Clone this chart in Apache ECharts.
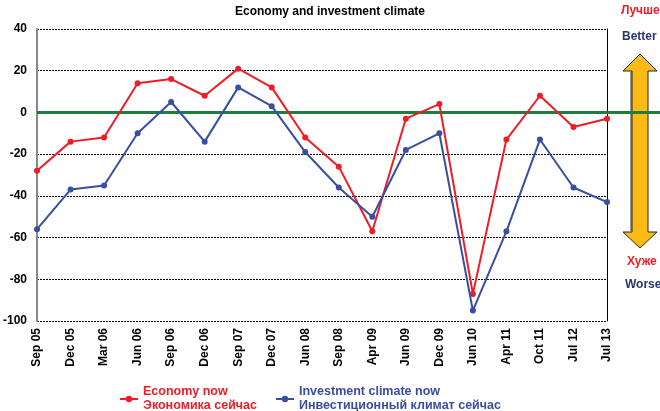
<!DOCTYPE html>
<html>
<head>
<meta charset="utf-8">
<script src="https://cdn.jsdelivr.net/npm/echarts@6/dist/echarts.min.js"></script>
<style>
  html, body { margin: 0; padding: 0; background: #fff; }
  #chart { width: 660px; height: 411px; }
</style>
</head>
<body>
<div id="chart"></div>
<script>
// периоды опроса
const periods = ['Sep 05', 'Dec 05', 'Mar 06', 'Jun 06', 'Sep 06', 'Dec 06', 'Sep 07', 'Dec 07', 'Jun 08',
  'Sep 08', 'Apr 09', 'Jun 09', 'Dec 09', 'Jun 10', 'Apr 11', 'Oct 11', 'Jul 12', 'Jul 13'];
const economyNow = [-28, -14, -12, 14, 16, 8, 21, 12, -12, -26, -57, -3, 4, -87, -13, 8, -7, -3];
const investNow = [-56, -37, -35, -10, 5, -14, 12, 3, -19, -36, -50, -18, -10, -95, -57, -13, -36, -43];
const yTicks = { min: -100, max: 40, step: 20 };

const RED = '#ee1c25';
const BLUE = '#3a4ea0';
const NAVY = '#2b3672';
const GREEN = '#1e7e3e';
const FONT = 'Liberation Sans, Arial, sans-serif';

let chart = echarts.init(document.getElementById('chart'));

function legendItem(name, color) {
    return {
        name: name,
        textStyle: {
            color: color,
            fontFamily: FONT,
            fontWeight: 'bold',
            fontSize: 12.5,
            lineHeight: 14,
            padding: [14, 0, 0, 0] // первая строка вровень со значком
        }
    };
}

let option = {
    animation: false,
    title: {
        text: 'Economy and investment climate',
        left: 'center',
        top: 1,
        textStyle: { fontFamily: FONT, fontSize: 12, fontWeight: 'bold', color: '#000' }
    },
    grid: { left: 36, right: 53, top: 29, bottom: 90 },
    legend: {
        left: 114,
        top: 373,
        itemGap: 18,
        itemWidth: 18,
        itemHeight: 8,
        formatter: function (name) {
            return name === 'Economy now' ? 'Economy now\nЭкономика сейчас'
                : 'Investment climate now\nИнвестиционный климат сейчас';
        },
        data: [
            legendItem('Economy now', RED),
            legendItem('Investment climate now', BLUE)
        ]
    },
    xAxis: {
        type: 'category',
        data: periods,
        boundaryGap: false,
        axisLine: { show: false, onZero: false },
        axisTick: { show: false },
        axisLabel: {
            rotate: 90,
            margin: 7,
            fontFamily: FONT,
            fontSize: 12,
            fontWeight: 'bold',
            color: '#000',
            interval: 0
        },
        splitLine: { show: false }
    },
    yAxis: [{
        type: 'value',
        min: yTicks.min,
        max: yTicks.max,
        interval: yTicks.step,
        axisLine: { show: true, lineStyle: { color: '#888', width: 2 } },
        axisTick: { show: false },
        axisLabel: { fontFamily: FONT, fontSize: 12, fontWeight: 'bold', color: '#000', margin: 10 },
        splitLine: { lineStyle: { color: '#000', type: [2, 1], width: 1 } }
    }, {
        type: 'value',
        position: 'right',
        min: yTicks.min,
        max: yTicks.max,
        interval: yTicks.step,
        axisLine: { show: true, lineStyle: { color: '#000', width: 1 } },
        axisTick: { show: false },
        axisLabel: { show: false },
        splitLine: { show: false }
    }],
    series: [{
        name: 'Economy now',
        type: 'line',
        data: economyNow,
        symbol: 'circle',
        symbolSize: 6,
        lineStyle: { color: RED, width: 2 },
        itemStyle: { color: RED },
        z: 3
    }, {
        name: 'Investment climate now',
        type: 'line',
        data: investNow,
        symbol: 'circle',
        symbolSize: 6,
        lineStyle: { color: BLUE, width: 2 },
        itemStyle: { color: BLUE },
        z: 4
    }]
};
chart.setOption(option);

// зелёная линия нуля и стрелка справа
let y0 = chart.convertToPixel({ yAxisIndex: 0 }, 0);
let x0 = chart.convertToPixel({ xAxisIndex: 0 }, 0);
chart.setOption({
    graphic: [
        { type: 'text', left: 621, top: 5, style: { text: 'Лучше', fill: RED, font: 'bold 12px ' + FONT } },
        { type: 'text', left: 622, top: 31, style: { text: 'Better', fill: NAVY, font: 'bold 12px ' + FONT } },
        { type: 'text', left: 627, top: 256, style: { text: 'Хуже', fill: RED, font: 'bold 12px ' + FONT } },
        { type: 'text', left: 625, top: 279, style: { text: 'Worse', fill: NAVY, font: 'bold 12px ' + FONT } },
        { type: 'rect', shape: { x: 630, y: 72, width: 3, height: 159 }, style: { fill: '#999' }, z: 1 },
        {
            type: 'polygon',
            shape: {
                points: [[640, 54], [657, 71], [648, 71], [648, 232], [657, 232], [640, 248],
                    [623, 232], [632, 232], [632, 71], [623, 71]]
            },
            style: { fill: '#fbbb14', stroke: '#222', lineWidth: 1 },
            z: 2
        },
        {
            type: 'line',
            shape: { x1: x0, y1: y0, x2: 660, y2: y0 },
            style: { stroke: GREEN, lineWidth: 3 },
            z: 2
        }
    ]
});
</script>
</body>
</html>
